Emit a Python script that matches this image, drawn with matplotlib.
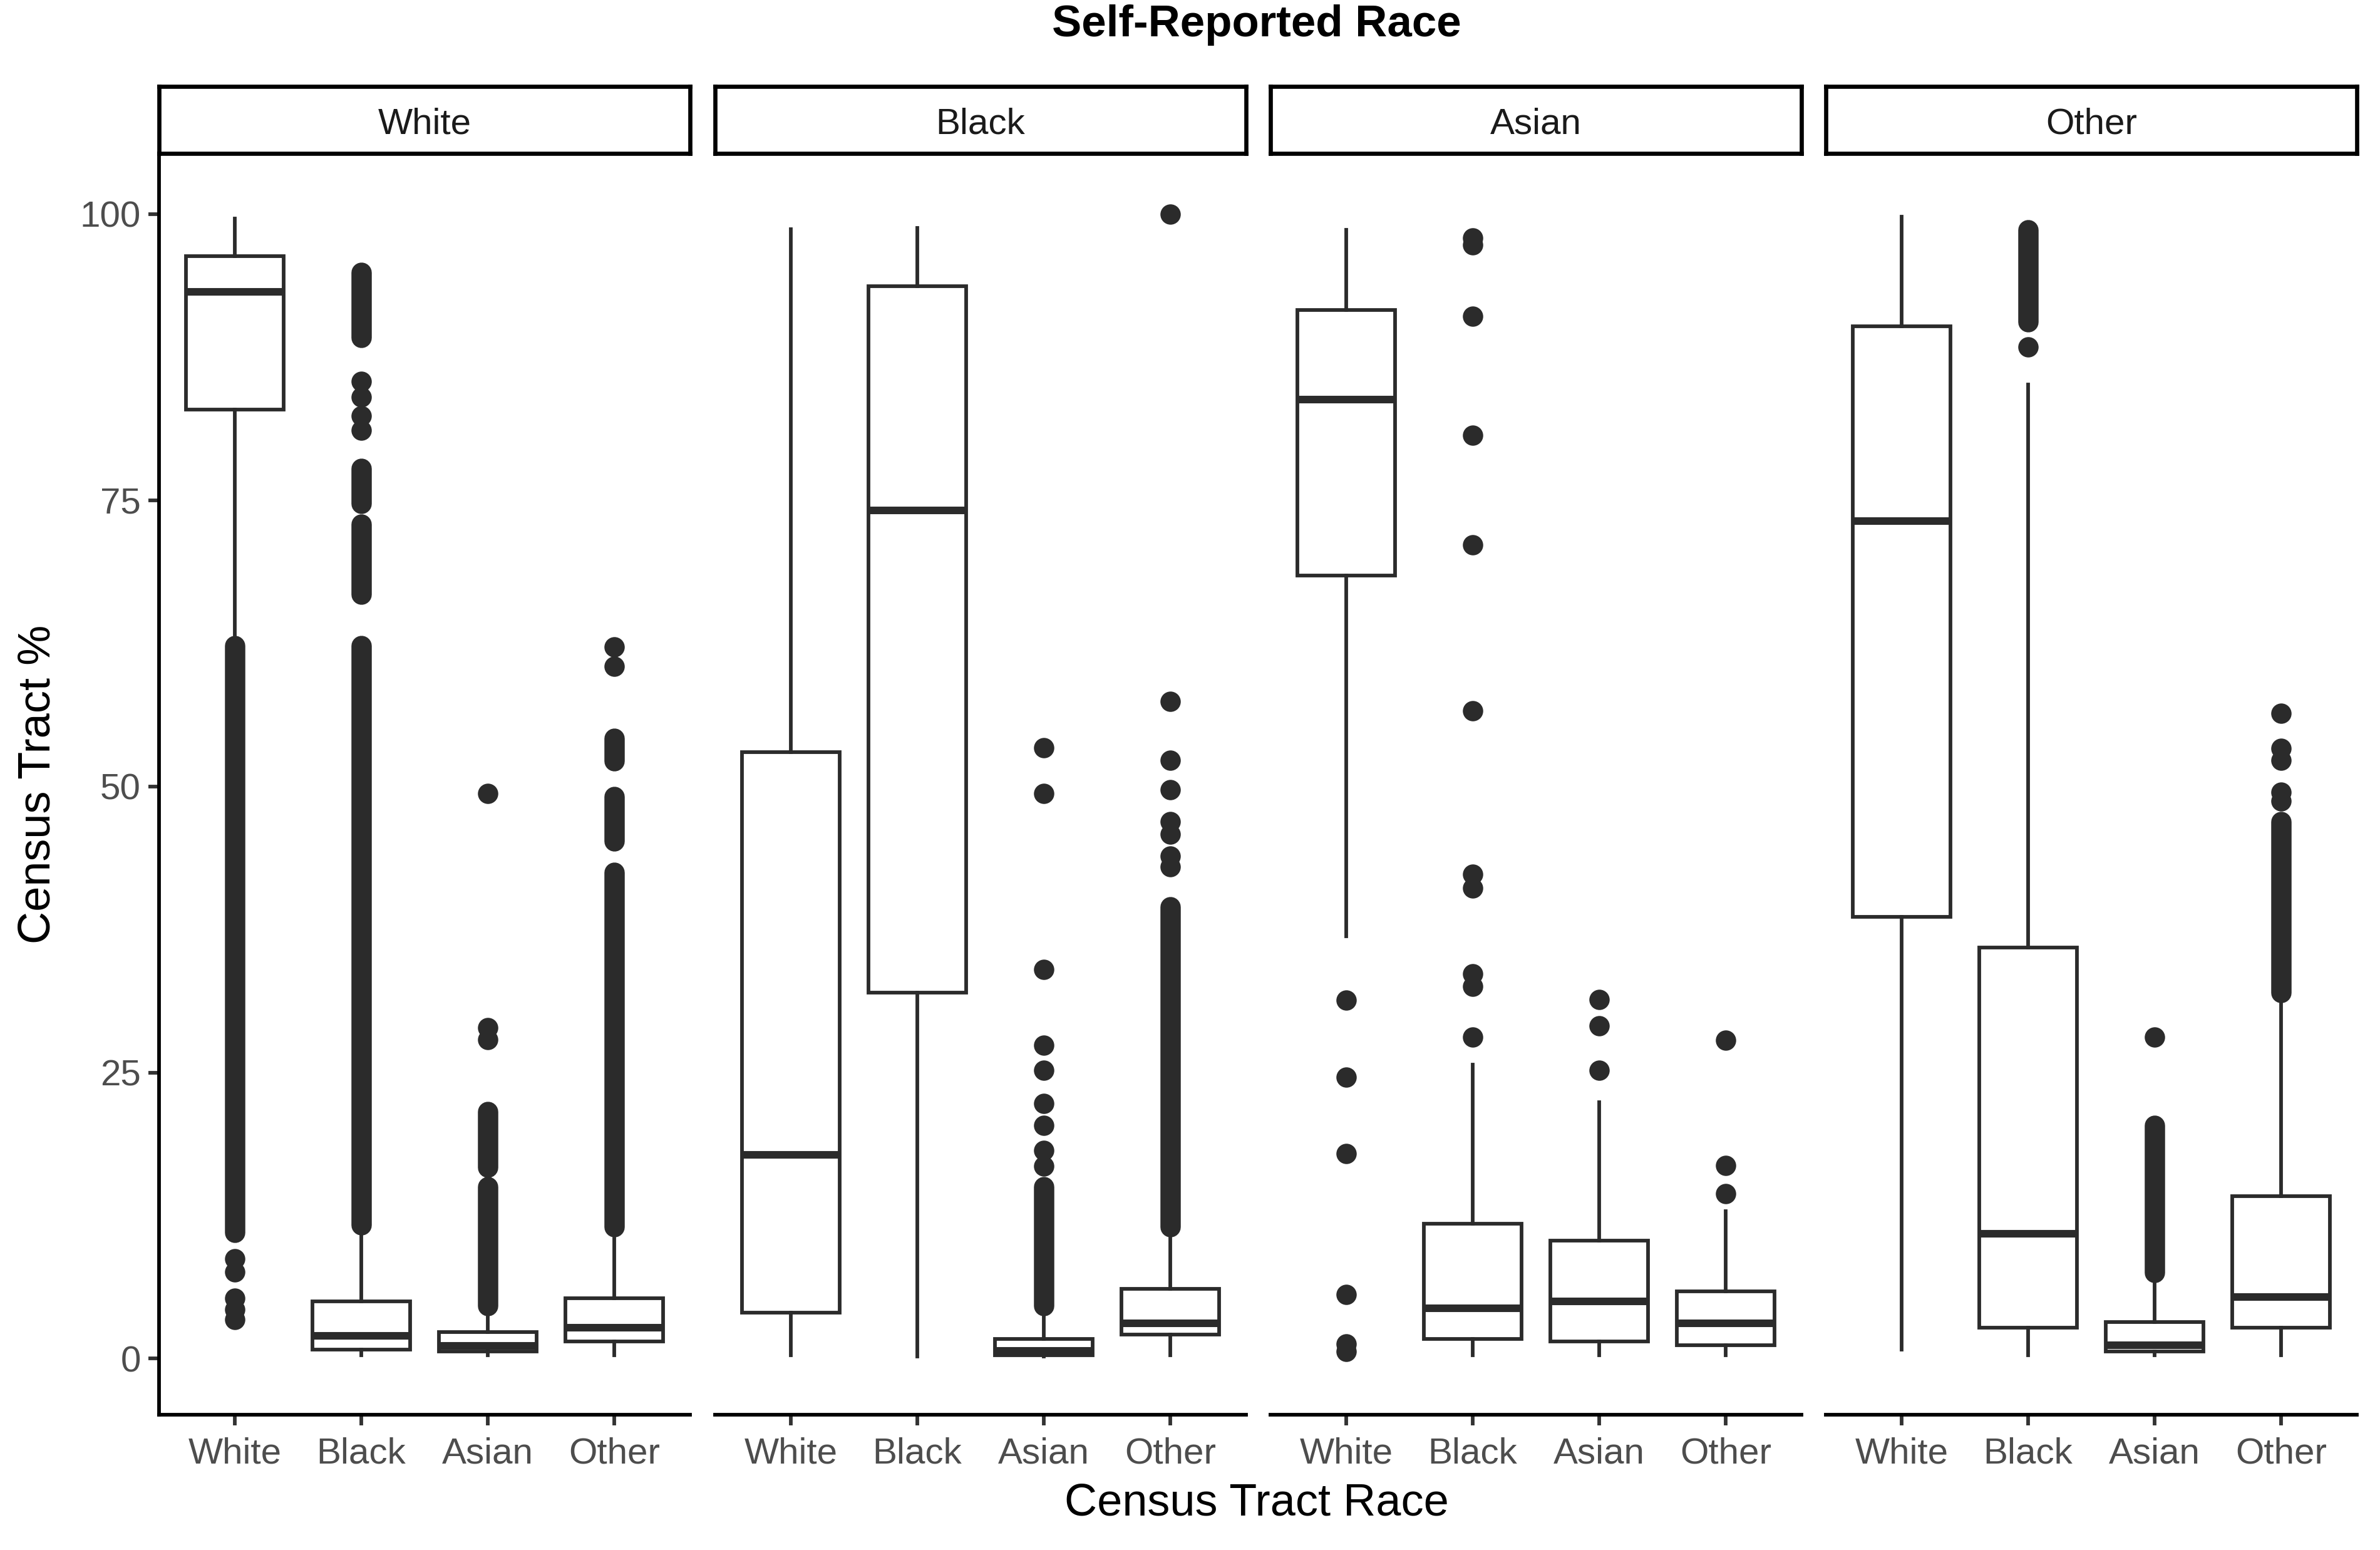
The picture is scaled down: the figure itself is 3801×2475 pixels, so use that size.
import matplotlib
matplotlib.use("Agg")
import matplotlib.pyplot as plt

plt.rcParams['font.family'] = ['Liberation Sans', 'DejaVu Sans']

# ---------------- data ----------------
panels = ["White", "Black", "Asian", "Other"]          # self-reported race (facets)
categories = ["White", "Black", "Asian", "Other"]      # census tract race (x)
y_ticks = [0, 25, 50, 75, 100]

# box stats per panel: [whisker_low, Q1, median, Q3, whisker_high] for each category
white_stats = [[63.3, 82.9, 93.2, 96.3, 99.6], [0.3, 0.8, 2.0, 5.0, 11.1],
               [0.3, 0.6, 1.1, 2.3, 4.0], [0.3, 1.5, 2.7, 5.3, 10.5]]
black_stats = [[0.3, 4.0, 17.8, 53.0, 98.7], [0.2, 32.0, 74.1, 93.7, 98.8],
               [0.2, 0.3, 0.7, 1.7, 4.0], [0.3, 2.1, 3.1, 6.1, 10.9]]
asian_stats = [[36.9, 68.4, 83.8, 91.6, 98.6], [0.3, 1.7, 4.4, 11.8, 25.7],
               [0.3, 1.5, 5.0, 10.3, 22.4], [0.3, 1.2, 3.1, 5.9, 12.9]]
other_stats = [[0.8, 38.6, 73.2, 90.2, 99.8], [0.3, 2.7, 10.9, 35.9, 85.1],
               [0.3, 0.6, 1.2, 3.2, 6.6], [0.3, 2.7, 5.4, 14.2, 31.4]]

# individual outliers per panel / category
white_out = [[8.7, 7.6, 5.3, 4.3, 3.4],
             [85.4, 84.0, 82.4, 81.1],
             [49.4, 28.9, 27.9],
             [62.2, 60.5]]
black_out = [[],
             [],
             [53.4, 49.4, 34.0, 27.4, 25.2, 22.3, 20.4, 18.2, 16.8],
             [100.0, 57.4, 52.3, 49.7, 46.9, 45.8, 43.9, 43.0]]
asian_out = [[31.3, 24.6, 17.9, 5.6, 1.3, 0.6],
             [97.9, 97.3, 91.1, 80.7, 71.1, 56.6, 42.3, 41.1, 33.6, 32.5, 28.1],
             [31.4, 29.1, 25.2],
             [27.8, 16.9, 14.4]]
other_out = [[],
             [88.4],
             [28.1],
             [56.4, 53.3, 52.3, 49.5, 48.7]]

# dense (overplotted) runs of outliers: [low, high] per category
white_runs = [[[11.0, 62.3]],
              [[11.7, 62.3], [66.8, 72.9], [74.7, 77.8], [89.2, 94.9]],
              [[4.6, 15.0], [16.7, 21.6]],
              [[11.5, 42.5], [45.2, 49.1], [52.2, 54.2]]]
black_runs = [[], [], [[4.6, 15.0]], [[11.5, 39.5]]]
asian_runs = [[], [], [], []]
other_runs = [[], [[90.6, 98.6]], [[7.5, 20.4]], [[32.0, 46.9]]]

all_stats = [white_stats, black_stats, asian_stats, other_stats]
all_out = [white_out, black_out, asian_out, other_out]
all_runs = [white_runs, black_runs, asian_runs, other_runs]

# ---------------- style ----------------
W, H, DPI = 3801, 2475, 300
fig = plt.figure(figsize=(W / DPI, H / DPI), dpi=DPI)
fig.patch.set_facecolor("white")

dark = "#2b2b2b"
tick_col = "#4D4D4D"
dot_d = 7.8
lefts = [254, 1142, 2029, 2916]
pw = 848
ax_top, ax_bot = 245, 2259
strip_top = 138

for i, name in enumerate(panels):
    l = lefts[i] / W
    b = 1 - ax_bot / H
    h = (ax_bot - ax_top) / H
    ax = fig.add_axes([l, b, pw / W, h])
    stats = []
    for j, s in enumerate(all_stats[i]):
        stats.append(dict(whislo=s[0], q1=s[1], med=s[2], q3=s[3], whishi=s[4],
                          fliers=[], label=categories[j]))
    ax.bxp(stats, positions=[1, 2, 3, 4], widths=0.77, showfliers=False,
           showcaps=False, patch_artist=True,
           boxprops=dict(facecolor="white", edgecolor=dark, linewidth=1.4),
           medianprops=dict(color=dark, linewidth=2.9, solid_capstyle="butt"),
           whiskerprops=dict(color=dark, linewidth=1.4), zorder=2)
    for j in range(4):
        for lo, hi in all_runs[i][j]:
            ax.plot([j + 1, j + 1], [lo, hi], color=dark, lw=dot_d,
                    solid_capstyle="round", zorder=3)
        pts = all_out[i][j]
        if pts:
            ax.plot([j + 1] * len(pts), pts, "o", color=dark, ms=dot_d,
                    mec="none", zorder=3)
    ax.set_xlim(0.4, 4.6)
    ax.set_ylim(-4.9, 105.3)
    ax.set_xticks([1, 2, 3, 4])
    ax.set_xticklabels(categories)
    ax.spines["top"].set_visible(False)
    ax.spines["right"].set_visible(False)
    ax.spines["bottom"].set_linewidth(1.4)
    ax.spines["bottom"].set_color("black")
    ax.tick_params(axis="x", length=4, width=1.4, color="#333333",
                   labelsize=14, labelcolor=tick_col, pad=4.5)
    if i == 0:
        ax.spines["left"].set_linewidth(1.4)
        ax.spines["left"].set_color("black")
        ax.set_yticks(y_ticks)
        ax.tick_params(axis="y", length=4, width=1.4, color="#333333",
                       labelsize=14, labelcolor=tick_col, pad=3)
    else:
        ax.spines["left"].set_visible(False)
        ax.set_yticks([])
    ax.set_facecolor("white")

    # strip
    sax = fig.add_axes([l, 1 - ax_top / H, pw / W, (ax_top - strip_top) / H])
    sax.set_xticks([])
    sax.set_yticks([])
    for sp in sax.spines.values():
        sp.set_linewidth(1.6)
        sp.set_color("black")
    sax.text(0.5, 0.43, name, ha="center", va="center", fontsize=14,
             color="#1A1A1A", transform=sax.transAxes)

fig.text(2007 / W, 1 - 40 / H, "Self-Reported Race", ha="center", va="center",
         fontsize=17, fontweight="bold", color="black")
fig.text(2007 / W, 1 - 2401 / H, "Census Tract Race", ha="center", va="center",
         fontsize=17.3, color="black")
fig.text(61 / W, 1 - 1252 / H, "Census Tract %", ha="center", va="center",
         rotation=90, fontsize=17.3, color="black")

fig.savefig("out.png", dpi=DPI, facecolor="white")
